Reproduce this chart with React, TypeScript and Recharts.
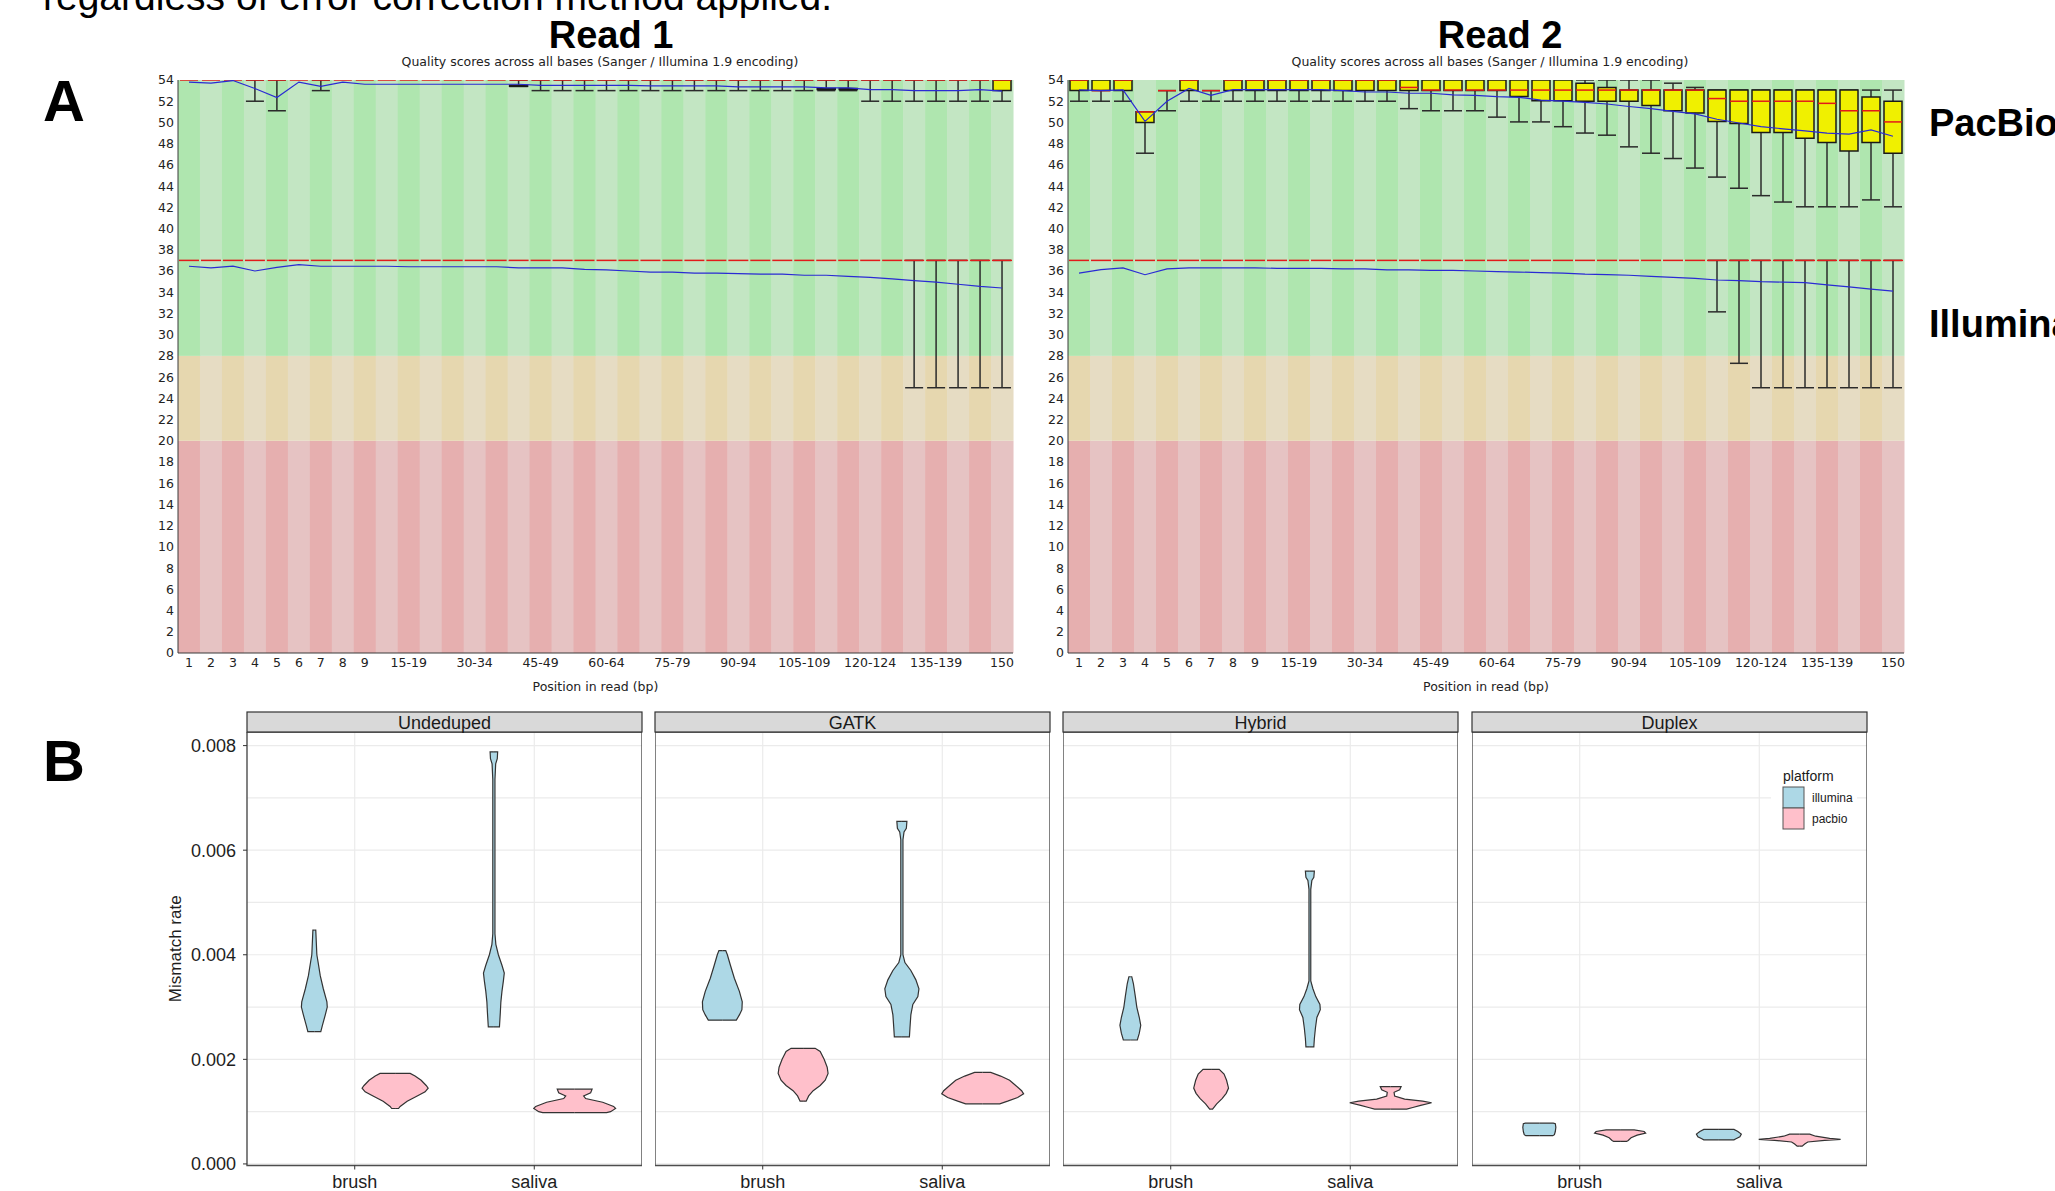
import React from 'react';
import { Area, Bar, CartesianGrid, ComposedChart, Line, ReferenceArea, XAxis, YAxis } from 'recharts';

// ---------- Panel A: per-base quality (FastQC style) ----------

const positions = ['1', '2', '3', '4', '5', '6', '7', '8', '9', '10-14', '15-19', '20-24', '25-29', '30-34', '35-39', '40-44',
  '45-49', '50-54', '55-59', '60-64', '65-69', '70-74', '75-79', '80-84', '85-89', '90-94', '95-99', '100-104', '105-109',
  '110-114', '115-119', '120-124', '125-129', '130-134', '135-139', '140-144', '145-149', '150'];
const labeledPositions = ['1', '2', '3', '4', '5', '6', '7', '8', '9', '15-19', '30-34', '45-49', '60-64', '75-79', '90-94',
  '105-109', '120-124', '135-139', '150'];
const qualityTicks = [0, 2, 4, 6, 8, 10, 12, 14, 16, 18, 20, 22, 24, 26, 28, 30, 32, 34, 36, 38, 40, 42, 44, 46, 48, 50, 52, 54];
// upper edge of the bad / poor / good call-quality zones
const zoneTop = { bad: 20, poor: 28, good: 54 };

type Range = [number, number] | null;

// Read 1, PacBio
const r1PacMean = [53.8, 53.7, 53.95, 53.2, 52.35, 53.8, 53.4, 53.8, 53.6, 53.6, 53.6, 53.6, 53.6, 53.6, 53.6, 53.6,
  53.5, 53.5, 53.5, 53.5, 53.5, 53.45, 53.45, 53.45, 53.45, 53.35, 53.35, 53.35, 53.35, 53.25, 53.25, 53.1, 53.1,
  53.0, 53.0, 53.0, 53.1, 52.95];
const r1PacMedian = [54, 54, 54, 54, 54, 54, 54, 54, 54, 54, 54, 54, 54, 54, 54, 54, 54, 54, 54, 54, 54, 54, 54, 54, 54,
  54, 54, 54, 54, 54, 54, 54, 54, 54, 54, 54, 54, 54];
const r1PacBox: Range[] = [null, null, null, null, null, null, null, null, null, null, null, null, null, null, null,
  [53.4, 53.5], null, null, null, null, null, null, null, null, null, null, null, null, null, [53.1, 53.2], [53.1, 53.2],
  null, null, null, null, null, null, [53, 54]];
const r1PacWhisker: Range[] = [null, null, null, [52, 54], [51.1, 54], null, [53, 54], null, null, null, null, null, null,
  null, null, [53.4, 54], [53, 54], [53, 54], [53, 54], [53, 54], [53, 54], [53, 54], [53, 54], [53, 54], [53, 54], [53, 54],
  [53, 54], [53, 54], [53, 54], [53, 54], [53, 54], [52, 54], [52, 54], [52, 54], [52, 54], [52, 54], [52, 54], [52, 54]];

// Read 1, Illumina
const r1IllMean = [36.45, 36.3, 36.45, 36.0, 36.35, 36.6, 36.45, 36.45, 36.45, 36.45, 36.4, 36.4, 36.4, 36.4, 36.4,
  36.3, 36.3, 36.3, 36.15, 36.1, 36.0, 35.9, 35.9, 35.8, 35.8, 35.75, 35.7, 35.7, 35.6, 35.6, 35.5, 35.4, 35.25, 35.1,
  34.95, 34.75, 34.55, 34.4];
const r1IllMedian = [37, 37, 37, 37, 37, 37, 37, 37, 37, 37, 37, 37, 37, 37, 37, 37, 37, 37, 37, 37, 37, 37, 37, 37, 37,
  37, 37, 37, 37, 37, 37, 37, 37, 37, 37, 37, 37, 37];
const r1IllWhisker: Range[] = [null, null, null, null, null, null, null, null, null, null, null, null, null, null, null,
  null, null, null, null, null, null, null, null, null, null, null, null, null, null, null, null, null, null,
  [25, 37], [25, 37], [25, 37], [25, 37], [25, 37]];

// Read 2, PacBio
const r2PacMean = [53.06, 53.0, 53.06, 50.1, 52.0, 53.2, 52.56, 53.1, 53.1, 53.1, 53.1, 53.1, 53.0, 52.87, 52.87, 52.75,
  52.75, 52.6, 52.56, 52.43, 52.37, 52.1, 52.0, 51.9, 51.74, 51.5, 51.3, 51.05, 50.8, 50.3, 49.95, 49.6, 49.4, 49.2,
  49.0, 48.9, 49.3, 48.7];
const r2PacMedian = [54, 53, 54, 51, 53, 54, 53, 54, 54, 54, 54, 54, 54, 54, 54, 53.3, 53.05, 53.05, 53.05, 53.05, 53.05,
  53.05, 53.05, 53.05, 53.05, 53.05, 53.05, 53.05, 53.05, 52.25, 52, 52, 52, 52, 51.8, 51.1, 51.1, 50.05];
const r2PacBox: Range[] = [[53, 54], [53, 54], [53, 54], [50, 51], null, [53, 54], null, [53, 54], [53, 54], [53, 54],
  [53, 54], [53, 54], [53, 54], [53, 54], [53, 54], [53, 54], [53, 54], [53, 54], [53, 54], [53, 54], [52.45, 54],
  [52.05, 54], [52.05, 54], [52, 53.7], [52, 53.3], [52, 53.05], [51.6, 53.05], [51.1, 53.05], [50.9, 53.05],
  [50.1, 53.05], [49.9, 53.05], [49.05, 53.05], [49.05, 53.05], [48.5, 53.05], [48.1, 53.05], [47.3, 53.05],
  [48.1, 52.4], [47.1, 52]];
const r2PacWhisker: Range[] = [[52, 54], [52, 54], [52, 54], [47.1, 51], [51.1, 53], [52, 54], [52, 53], [52, 54],
  [52, 54], [52, 54], [52, 54], [52, 54], [52, 54], [52, 54], [52, 54], [51.3, 54], [51.1, 54], [51.1, 54], [51.1, 54],
  [50.5, 54], [50.05, 54], [50.05, 54], [49.6, 54], [49, 54], [48.8, 54], [47.7, 54], [47.1, 54], [46.6, 53.7],
  [45.7, 53.3], [44.85, 53.05], [43.8, 53.05], [43.1, 53.05], [42.5, 53.05], [42.05, 53.05], [42.05, 53.05],
  [42.05, 53.05], [42.7, 53.05], [42.05, 53.05]];

// Read 2, Illumina
const r2IllMean = [35.8, 36.13, 36.3, 35.65, 36.2, 36.3, 36.3, 36.3, 36.3, 36.25, 36.25, 36.25, 36.2, 36.2, 36.1, 36.1,
  36.05, 36.05, 36.0, 35.95, 35.9, 35.85, 35.8, 35.7, 35.65, 35.6, 35.5, 35.4, 35.3, 35.15, 35.1, 35.0, 34.95, 34.9,
  34.7, 34.5, 34.3, 34.1];
const r2IllMedian = [37, 37, 37, 37, 37, 37, 37, 37, 37, 37, 37, 37, 37, 37, 37, 37, 37, 37, 37, 37, 37, 37, 37, 37, 37,
  37, 37, 37, 37, 37, 37, 37, 37, 37, 37, 37, 37, 37];
const r2IllWhisker: Range[] = [null, null, null, null, null, null, null, null, null, null, null, null, null, null, null,
  null, null, null, null, null, null, null, null, null, null, null, null, null, null, [32.15, 37], [27.3, 37],
  [25, 37], [25, 37], [25, 37], [25, 37], [25, 37], [25, 37], [25, 37]];

const read1 = { pacMean: r1PacMean, pacMedian: r1PacMedian, pacBox: r1PacBox, pacWhisker: r1PacWhisker,
  illMean: r1IllMean, illMedian: r1IllMedian, illWhisker: r1IllWhisker };
const read2 = { pacMean: r2PacMean, pacMedian: r2PacMedian, pacBox: r2PacBox, pacWhisker: r2PacWhisker,
  illMean: r2IllMean, illMedian: r2IllMedian, illWhisker: r2IllWhisker };

// ---------- Panel B: mismatch rate violins (rate in 1e-3, half width in category units) ----------

const facets = ['Undeduped', 'GATK', 'Hybrid', 'Duplex'];
const sites = ['brush', 'saliva'];
const platforms = ['illumina', 'pacbio'];
const rateTicks = [0, 0.002, 0.004, 0.006, 0.008];
const rateGrid = [0, 0.001, 0.002, 0.003, 0.004, 0.005, 0.006, 0.007, 0.008];

const undedupedBrushIllumina = [[4.47, 0.008], [4.0, 0.014], [3.9, 0.019], [3.6, 0.033], [3.35, 0.05], [3.1, 0.07],
  [3.0, 0.072], [2.85, 0.061], [2.65, 0.045], [2.53, 0.036]];
const undedupedBrushPacbio = [[1.73, 0.084], [1.68, 0.111], [1.6, 0.145], [1.5, 0.173], [1.45, 0.184], [1.38, 0.167],
  [1.3, 0.123], [1.2, 0.067], [1.1, 0.028], [1.06, 0.019]];
const undedupedSalivaIllumina = [[7.88, 0.021], [7.75, 0.019], [7.65, 0.01], [7.35, 0.006], [4.4, 0.006], [4.2, 0.011],
  [4.0, 0.025], [3.8, 0.045], [3.65, 0.058], [3.5, 0.053], [3.3, 0.045], [3.1, 0.039], [2.9, 0.036], [2.62, 0.031]];
const undedupedSalivaPacbio = [[1.43, 0.097], [1.36, 0.089], [1.3, 0.05], [1.25, 0.061], [1.18, 0.156], [1.1, 0.217],
  [1.06, 0.228], [1.0, 0.2], [0.98, 0.178]];

const gatkBrushIllumina = [[4.08, 0.019], [4.0, 0.028], [3.8, 0.045], [3.55, 0.067], [3.3, 0.095], [3.1, 0.111],
  [2.95, 0.109], [2.85, 0.095], [2.75, 0.078]];
const gatkBrushPacbio = [[2.21, 0.067], [2.15, 0.095], [2.0, 0.117], [1.85, 0.134], [1.73, 0.139], [1.6, 0.123],
  [1.5, 0.095], [1.4, 0.056], [1.3, 0.031], [1.2, 0.017]];
const gatkSalivaIllumina = [[6.55, 0.028], [6.42, 0.025], [6.35, 0.012], [6.2, 0.006], [4.0, 0.006], [3.85, 0.017],
  [3.7, 0.05], [3.52, 0.078], [3.35, 0.095], [3.2, 0.089], [3.05, 0.061], [2.85, 0.05], [2.6, 0.045], [2.43, 0.042]];
const gatkSalivaPacbio = [[1.75, 0.045], [1.68, 0.1], [1.6, 0.15], [1.5, 0.184], [1.4, 0.217], [1.34, 0.228],
  [1.27, 0.195], [1.2, 0.139], [1.15, 0.095]];

const hybridBrushIllumina = [[3.58, 0.008], [3.45, 0.017], [3.2, 0.028], [3.0, 0.036], [2.8, 0.05], [2.65, 0.058],
  [2.5, 0.05], [2.37, 0.039]];
const hybridBrushPacbio = [[1.81, 0.045], [1.72, 0.072], [1.6, 0.086], [1.45, 0.097], [1.35, 0.084], [1.25, 0.061],
  [1.15, 0.031], [1.05, 0.008]];
const hybridSalivaIllumina = [[5.6, 0.025], [5.48, 0.022], [5.42, 0.011], [5.25, 0.005], [3.5, 0.005], [3.35, 0.017],
  [3.2, 0.033], [3.05, 0.056], [2.95, 0.058], [2.8, 0.039], [2.6, 0.031], [2.4, 0.025], [2.24, 0.022]];
const hybridSalivaPacbio = [[1.48, 0.058], [1.42, 0.05], [1.37, 0.019], [1.3, 0.022], [1.24, 0.078], [1.2, 0.178],
  [1.17, 0.228], [1.12, 0.167], [1.08, 0.123], [1.05, 0.089]];

const duplexBrushIllumina = [[0.78, 0.078], [0.77, 0.089], [0.7, 0.092], [0.62, 0.089], [0.56, 0.084], [0.54, 0.075]];
const duplexBrushPacbio = [[0.65, 0.078], [0.62, 0.134], [0.59, 0.142], [0.55, 0.095], [0.5, 0.061], [0.45, 0.045],
  [0.43, 0.036]];
const duplexSalivaIllumina = [[0.66, 0.084], [0.62, 0.106], [0.57, 0.125], [0.52, 0.117], [0.48, 0.095], [0.46, 0.084]];
const duplexSalivaPacbio = [[0.57, 0.056], [0.53, 0.089], [0.49, 0.167], [0.47, 0.228], [0.45, 0.139], [0.42, 0.045],
  [0.38, 0.028], [0.34, 0.014]];

// facet -> [brush illumina, brush pacbio, saliva illumina, saliva pacbio]
const violinProfiles: Record<string, number[][][]> = {
  Undeduped: [undedupedBrushIllumina, undedupedBrushPacbio, undedupedSalivaIllumina, undedupedSalivaPacbio],
  GATK: [gatkBrushIllumina, gatkBrushPacbio, gatkSalivaIllumina, gatkSalivaPacbio],
  Hybrid: [hybridBrushIllumina, hybridBrushPacbio, hybridSalivaIllumina, hybridSalivaPacbio],
  Duplex: [duplexBrushIllumina, duplexBrushPacbio, duplexSalivaIllumina, duplexSalivaPacbio],
};

// ---------- styling ----------

const fastqcFont = '"DejaVu Sans", sans-serif';
const ggFont = '"Liberation Sans", Arial, sans-serif';
const zoneColors: Record<string, [string, string]> = {
  good: ['#afe6af', '#c3e6c3'],
  poor: ['#e6d7af', '#e6dcc3'],
  bad: ['#e6afaf', '#e6c3c3'],
};
const platformFill: Record<string, string> = { illumina: '#add8e6', pacbio: '#ffc0cb' };
const dodge: Record<string, number> = { illumina: -0.225, pacbio: 0.225 };
const RATE_DOMAIN: [number, number] = [-0.00003, 0.00826];
const PANEL_W = 395;
const panelLefts = [247, 655, 1063, 1472];

const ok = (p: any) => Number.isFinite(p.y) && Number.isFinite(p.height) && Number.isFinite(p.x);

const zoneShape = (zone: string) => (p: any) => {
  if (!ok(p)) return <g />;
  return <rect x={p.x} y={p.y} width={p.width + 0.5} height={p.height} fill={zoneColors[zone][p.payload.odd ? 1 : 0]} />;
};

const whiskerShape = (p: any) => {
  if (!ok(p)) return <g />;
  const top = Math.min(p.y, p.y + p.height);
  const bot = Math.max(p.y, p.y + p.height);
  const cx = p.x + p.width / 2;
  return (
    <g stroke="#2b2b2b" strokeWidth={1.5}>
      <line x1={cx} x2={cx} y1={top} y2={bot} />
      <line x1={p.x} x2={p.x + p.width} y1={top} y2={top} />
      <line x1={p.x} x2={p.x + p.width} y1={bot} y2={bot} />
    </g>
  );
};

const boxShape = (p: any) => {
  if (!ok(p)) return <g />;
  const top = Math.min(p.y, p.y + p.height);
  const h = Math.abs(p.height);
  return <path d={`M${p.x},${top}h${p.width}v${h}h${-p.width}Z`} fill="#f0f000" stroke="#1a1a1a" strokeWidth={1.5} />;
};

const medianShape = (p: any) => {
  if (!ok(p)) return <g />;
  return <line x1={p.x} x2={p.x + p.width} y1={p.y} y2={p.y} stroke="#e31a1a" strokeWidth={1.5} />;
};

function qualityRows(r: typeof read1) {
  return positions.map((pos, i) => ({
    pos,
    odd: i % 2 === 1,
    bad: zoneTop.bad,
    poor: zoneTop.poor - zoneTop.bad,
    good: zoneTop.good - zoneTop.poor,
    pWhisk: r.pacWhisker[i],
    pBox: r.pacBox[i],
    pMed: [r.pacMedian[i], r.pacMedian[i]],
    pMean: r.pacMean[i],
    iWhisk: r.illWhisker[i],
    iMed: [r.illMedian[i], r.illMedian[i]],
    iMean: r.illMean[i],
  }));
}

function QualityChart({ read, left, width }: { read: typeof read1; left: number; width: number }) {
  const rows = qualityRows(read);
  const tickStyle = { fontSize: 12.5, fill: '#222', fontFamily: fastqcFont };
  return (
    <div style={{ position: 'absolute', left, top: 40 }}>
      <ComposedChart width={width} height={660} data={rows} margin={{ top: 40, right: 25, bottom: 0, left: 20 }}
        barCategoryGap={0} barGap={0}>
        <XAxis xAxisId="bg" dataKey="pos" interval={0} tickLine={false} tickSize={4} tickMargin={1} height={47}
          axisLine={{ stroke: '#3a3a3a' }} tick={tickStyle}
          tickFormatter={(v: string) => (labeledPositions.includes(v) ? v : '')}
          label={{ value: 'Position in read (bp)', position: 'insideBottom', offset: 9, ...tickStyle }} />
        {['pw', 'pb', 'pm', 'iw', 'im'].map((id) => <XAxis key={id} xAxisId={id} dataKey="pos" hide />)}
        <YAxis type="number" domain={[0, 54]} allowDataOverflow ticks={qualityTicks} interval={0} width={60}
          tickLine={false} tickSize={2} tickMargin={2} axisLine={{ stroke: '#3a3a3a' }} tick={tickStyle} />

        <Bar xAxisId="bg" dataKey="bad" stackId="zone" shape={zoneShape('bad')} isAnimationActive={false} />
        <Bar xAxisId="bg" dataKey="poor" stackId="zone" shape={zoneShape('poor')} isAnimationActive={false} />
        <Bar xAxisId="bg" dataKey="good" stackId="zone" shape={zoneShape('good')} isAnimationActive={false} />

        <Bar xAxisId="pw" dataKey="pWhisk" barSize={18} shape={whiskerShape} isAnimationActive={false} />
        <Bar xAxisId="pb" dataKey="pBox" barSize={18} shape={boxShape} isAnimationActive={false} />
        <Bar xAxisId="pm" dataKey="pMed" barSize={18} shape={medianShape} isAnimationActive={false} />
        <Bar xAxisId="iw" dataKey="iWhisk" barSize={18} shape={whiskerShape} isAnimationActive={false} />
        <Bar xAxisId="im" dataKey="iMed" barSize={20} shape={medianShape} isAnimationActive={false} />

        <Line xAxisId="bg" dataKey="pMean" type="linear" stroke="#2a2ad4" strokeWidth={1.2} dot={false}
          activeDot={false} isAnimationActive={false} />
        <Line xAxisId="bg" dataKey="iMean" type="linear" stroke="#2a2ad4" strokeWidth={1.2} dot={false}
          activeDot={false} isAnimationActive={false} />
      </ComposedChart>
    </div>
  );
}

// one violin as a range area in a vertical layout: x span [centre - w, centre + w] at each rate
function violinRows(profile: number[][], centre: number) {
  const pts = profile.map(([r, w]) => ({ v: r / 1000, span: [centre - w, centre + w] }));
  const first = pts[0];
  const last = pts[pts.length - 1];
  return [{ v: first.v, span: [centre, centre] }, ...pts, { v: last.v, span: [centre, centre] }];
}

function FacetChart({ facet, index }: { facet: string; index: number }) {
  const withY = index === 0;
  const yW = withY ? 97 : 0;
  const profiles = violinProfiles[facet];
  const tick = { fontSize: 18, fill: '#1e1e1e', fontFamily: ggFont };
  return (
    <div style={{ position: 'absolute', left: panelLefts[index] - yW, top: 732 }}>
      <ComposedChart layout="vertical" width={PANEL_W + yW} height={474} margin={{ top: 0, right: 0, bottom: 0, left: 0 }}>
        <CartesianGrid stroke="#ebebeb" strokeWidth={1.2} horizontalValues={rateGrid} verticalValues={[1, 2]} />
        <XAxis type="number" domain={[0.4, 2.6]} allowDataOverflow ticks={[1, 2]} interval={0} height={40.5}
          tickFormatter={(v: number) => sites[v - 1]} tickSize={4} tickMargin={6} axisLine={false}
          tickLine={{ stroke: '#333' }} tick={tick} />
        <YAxis type="number" dataKey="v" domain={RATE_DOMAIN} allowDataOverflow reversed ticks={rateTicks} interval={0}
          width={yW} hide={!withY} tickSize={4} tickMargin={7} axisLine={false} tickLine={{ stroke: '#333' }} tick={tick}
          tickFormatter={(v: number) => v.toFixed(3)}
          label={{ value: 'Mismatch rate', angle: -90, position: 'insideLeft', offset: 25, fontSize: 17,
            fill: '#1e1e1e', fontFamily: ggFont, style: { textAnchor: 'middle' } }} />
        <ReferenceArea x1={0.4} x2={2.6} y1={RATE_DOMAIN[0]} y2={RATE_DOMAIN[1]} fill="none" fillOpacity={0}
          stroke="#4d4d4d" strokeWidth={1.4} ifOverflow="visible" />
        {profiles.map((profile, k) => {
          const site = Math.floor(k / 2);
          const platform = platforms[k % 2];
          return (
            <Area key={`${facet}-${k}`} data={violinRows(profile, site + 1 + dodge[platform])} dataKey="span"
              type="linear" fill={platformFill[platform]} fillOpacity={1} stroke="#333" strokeWidth={1.2}
              dot={false} activeDot={false} isAnimationActive={false} />
          );
        })}
      </ComposedChart>
    </div>
  );
}

function Annotations() {
  const bold = { fontFamily: ggFont, fontWeight: 700, fill: '#000' };
  return (
    <svg width={2055} height={1191} style={{ position: 'absolute', left: 0, top: 0, pointerEvents: 'none' }}>
      <text x={43} y={10} fontSize={39} fontFamily={ggFont} fill="#000">regardless of error correction method applied.</text>
      <text x={43} y={121} fontSize={58} {...bold}>A</text>
      <text x={43} y={781} fontSize={58} {...bold}>B</text>

      <text x={611} y={48} fontSize={38} textAnchor="middle" {...bold}>Read 1</text>
      <text x={1500} y={48} fontSize={38} textAnchor="middle" {...bold}>Read 2</text>
      <text x={600} y={66} fontSize={12.5} textAnchor="middle" fontFamily={fastqcFont} fill="#222">
        Quality scores across all bases (Sanger / Illumina 1.9 encoding)</text>
      <text x={1490} y={66} fontSize={12.5} textAnchor="middle" fontFamily={fastqcFont} fill="#222">
        Quality scores across all bases (Sanger / Illumina 1.9 encoding)</text>
      <text x={1929} y={136} fontSize={38} {...bold}>PacBio</text>
      <text x={1929} y={337} fontSize={38} {...bold}>Illumina</text>

      {facets.map((f, k) => (
        <g key={f}>
          <rect x={panelLefts[k]} y={712} width={PANEL_W} height={20} fill="#d9d9d9" stroke="#333" strokeWidth={1.2} />
          <text x={panelLefts[k] + PANEL_W / 2} y={729} fontSize={18} textAnchor="middle" fontFamily={ggFont}
            fill="#1a1a1a">{f}</text>
        </g>
      ))}

      <rect x={1771} y={758} width={86} height={78} fill="#fff" />
      <text x={1783} y={781} fontSize={14} fontFamily={ggFont} fill="#1a1a1a">platform</text>
      {platforms.map((p, k) => (
        <g key={p}>
          <rect x={1783} y={787 + k * 21} width={21} height={21} fill={platformFill[p]} stroke="#555" strokeWidth={1} />
          <text x={1812} y={802 + k * 21} fontSize={12} fontFamily={ggFont} fill="#1a1a1a">{p}</text>
        </g>
      ))}
    </svg>
  );
}

export default function App() {
  return (
    <div style={{ position: 'absolute', left: 0, top: 0, width: 2055, height: 1191, overflow: 'hidden', background: '#fff' }}>
      <QualityChart read={read1} left={98} width={940} />
      <QualityChart read={read2} left={988} width={941} />
      {facets.map((f, k) => <FacetChart key={f} facet={f} index={k} />)}
      <Annotations />
    </div>
  );
}
